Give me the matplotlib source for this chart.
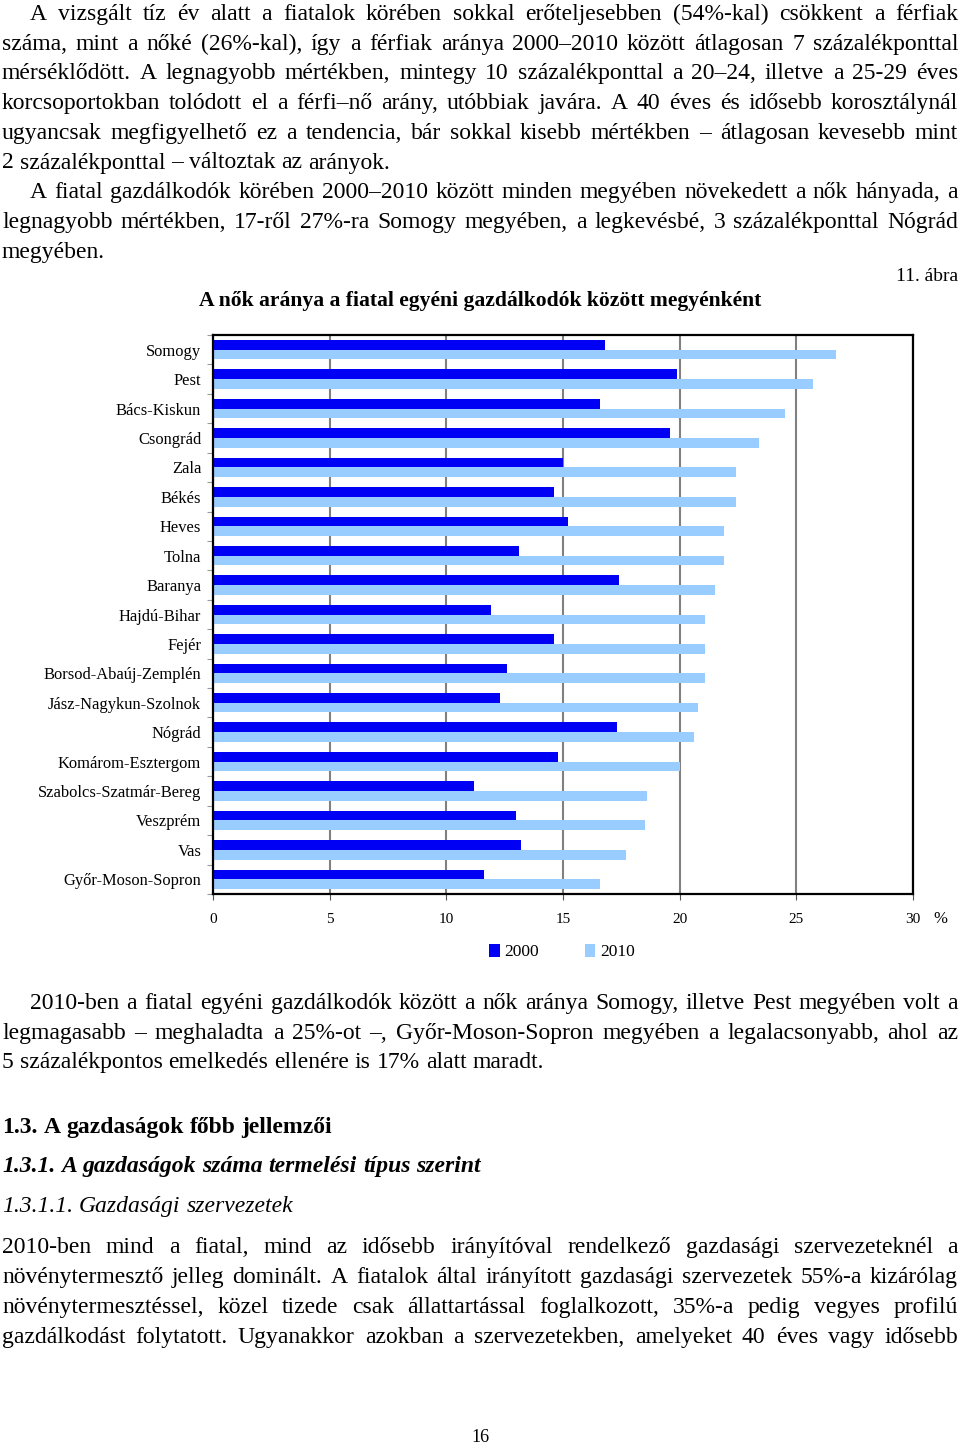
import matplotlib
matplotlib.use("Agg")
import matplotlib.pyplot as plt
import numpy as np

W, H = 960, 1444
SERIF = "Liberation Serif"

# data (%)
megyek = ["Somogy", "Pest", "Bács-Kiskun", "Csongrád", "Zala", "Békés", "Heves",
          "Tolna", "Baranya", "Hajdú-Bihar", "Fejér", "Borsod-Abaúj-Zemplén",
          "Jász-Nagykun-Szolnok", "Nógrád", "Komárom-Esztergom",
          "Szabolcs-Szatmár-Bereg", "Veszprém", "Vas", "Győr-Moson-Sopron"]
ev2000 = [16.8, 19.9, 16.6, 19.6, 15.0, 14.6, 15.2, 13.1, 17.4, 11.9, 14.6,
          12.6, 12.3, 17.3, 14.8, 11.2, 13.0, 13.2, 11.6]
ev2010 = [26.7, 25.7, 24.5, 23.4, 22.4, 22.4, 21.9, 21.9, 21.5, 21.1, 21.1,
          21.1, 20.8, 20.6, 20.0, 18.6, 18.5, 17.7, 16.6]
xticks = [0, 5, 10, 15, 20, 25, 30]

BODY = 17

fig = plt.figure(figsize=(W / 100, H / 100), dpi=100)
fig.patch.set_facecolor("white")
renderer = fig.canvas.get_renderer()


def pos(x, y):
    return x / W, 1 - y / H


def line(txt, x0, y, size=BODY, x1=958, justify=True, weight="normal", style="normal"):
    # y is the baseline in pixels from the top
    words = txt.split(" ")
    objs = [fig.text(0, 0, w, fontsize=size, family=SERIF, weight=weight,
                     style=style, va="baseline", ha="left") for w in words]
    widths = [o.get_window_extent(renderer).width for o in objs]
    if justify and len(words) > 1:
        gap = (x1 - x0 - sum(widths)) / (len(words) - 1)
    else:
        gap = size * 100 / 72 * 0.25
    x = x0
    for o, w in zip(objs, widths):
        o.set_position(pos(x, y))
        x += w + gap


# text above the chart
felso = [
    ("A vizsgált tíz év alatt a fiatalok körében sokkal erőteljesebben (54%-kal) csökkent a férfiak", 30, True),
    ("száma, mint a nőké (26%-kal), így a férfiak aránya 2000–2010 között átlagosan 7 százalékponttal", 2, True),
    ("mérséklődött. A legnagyobb mértékben, mintegy 10 százalékponttal a 20–24, illetve a 25-29 éves", 2, True),
    ("korcsoportokban tolódott el a férfi–nő arány, utóbbiak javára. A 40 éves és idősebb korosztálynál", 2, True),
    ("ugyancsak megfigyelhető ez a tendencia, bár sokkal kisebb mértékben – átlagosan kevesebb mint", 2, True),
    ("2 százalékponttal – változtak az arányok.", 2, False),
    ("A fiatal gazdálkodók körében 2000–2010 között minden megyében növekedett a nők hányada, a", 30, True),
    ("legnagyobb mértékben, 17-ről 27%-ra Somogy megyében, a legkevésbé, 3 százalékponttal Nógrád", 2, True),
    ("megyében.", 2, False),
]
for i, (t, x0, j) in enumerate(felso):
    line(t, x0, 20 + i * 29.7, justify=j)

fig.text(*pos(958, 281), "11. ábra", fontsize=14, family=SERIF, ha="right", va="baseline")
fig.text(*pos(480, 306), "A nők aránya a fiatal egyéni gazdálkodók között megyénként",
         fontsize=15.6, family=SERIF, weight="bold", ha="center", va="baseline")

# chart
ax = fig.add_axes([213 / W, 1 - 894 / H, 700 / W, 559 / H])
y = np.arange(len(megyek))
h = 0.33
b1 = ax.barh(y - h / 2, ev2000, height=h, color="#0000F5", label="2000", zorder=2)
b2 = ax.barh(y + h / 2, ev2010, height=h, color="#99CCFF", label="2010", zorder=2)
ax.set_ylim(len(megyek) - 0.5, -0.5)
ax.set_xlim(0, 30)
ax.set_xticks(xticks)
ax.set_xticklabels([str(v) for v in xticks], fontsize=11, family=SERIF)
ax.set_yticks(y)
ax.set_yticklabels(megyek, fontsize=11.9, family=SERIF)
ax.set_yticks(np.arange(-0.5, len(megyek), 1), minor=True)
ax.tick_params(axis="y", which="major", length=0, pad=8.5)
ax.tick_params(axis="y", which="minor", length=4, color="#999999", width=0.8)
ax.tick_params(axis="x", length=4, color="#555555", pad=9.5)
ax.xaxis.grid(True, color="#808080", lw=1.5, zorder=1)
ax.set_axisbelow(True)
for s in ax.spines.values():
    s.set_color("black")
    s.set_linewidth(1.6)

fig.text(*pos(940, 919), "%", fontsize=12, family=SERIF, ha="center", va="center")

fig.legend(handles=[b1, b2], loc="center", bbox_to_anchor=pos(562, 952), ncol=2,
           frameon=False, handlelength=0.6, handleheight=0.8, handletextpad=0.3,
           columnspacing=2.6, prop={"family": SERIF, "size": 12.5})

# text below the chart
also = [
    ("2010-ben a fiatal egyéni gazdálkodók között a nők aránya Somogy, illetve Pest megyében volt a", 30, True),
    ("legmagasabb – meghaladta a 25%-ot –, Győr-Moson-Sopron megyében a legalacsonyabb, ahol az", 2, True),
    ("5 százalékpontos emelkedés ellenére is 17% alatt maradt.", 2, False),
]
for i, (t, x0, j) in enumerate(also):
    line(t, x0, 1009 + i * 29.7, justify=j)

line("1.3. A gazdaságok főbb jellemzői", 2, 1133, justify=False, weight="bold")
line("1.3.1. A gazdaságok száma termelési típus szerint", 2, 1172, justify=False,
     weight="bold", style="italic")
line("1.3.1.1. Gazdasági szervezetek", 2, 1212, justify=False, style="italic")

utolso = [
    "2010-ben mind a fiatal, mind az idősebb irányítóval rendelkező gazdasági szervezeteknél a",
    "növénytermesztő jelleg dominált. A fiatalok által irányított gazdasági szervezetek 55%-a kizárólag",
    "növénytermesztéssel, közel tizede csak állattartással foglalkozott, 35%-a pedig vegyes profilú",
    "gazdálkodást folytatott. Ugyanakkor azokban a szervezetekben, amelyeket 40 éves vagy idősebb",
]
for i, t in enumerate(utolso):
    line(t, 2, 1253 + i * 29.9)

fig.text(*pos(480, 1438), "16", fontsize=13, family=SERIF, ha="center", va="center")

fig.savefig("out.png", dpi=100)
